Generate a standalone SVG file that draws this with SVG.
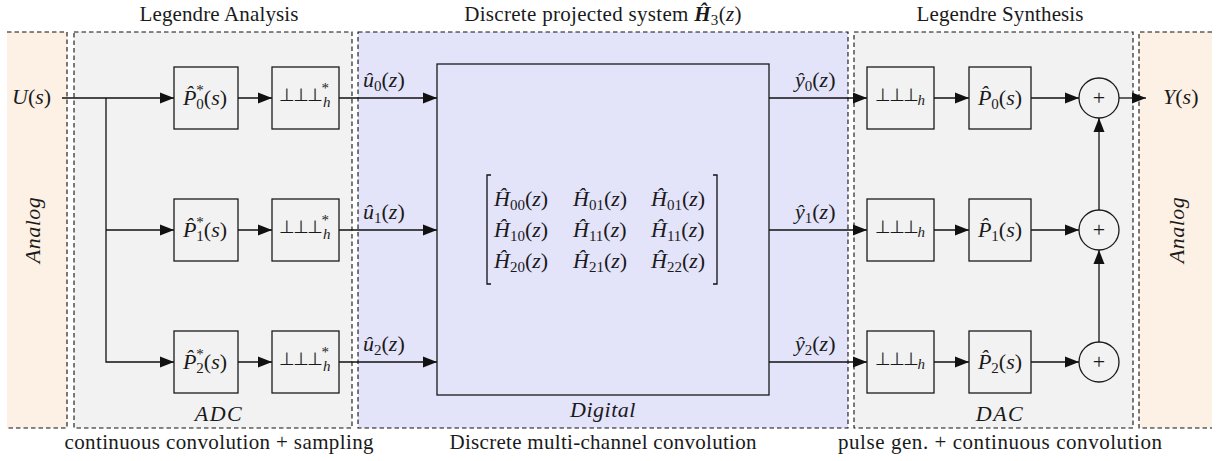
<svg xmlns="http://www.w3.org/2000/svg" width="1221" height="461" viewBox="0 0 1221 461">
<style>
.t{font-family:"Liberation Serif","DejaVu Serif",serif;font-size:21px;fill:#1a1a1a}
.m{font-size:22px}
.i{font-style:italic}
.s{font-size:15px}
.c{font-family:"DejaVu Sans",sans-serif;font-size:18px;fill:#1a1a1a}
.box{fill:none;stroke:#1a1a1a;stroke-width:1.3}
.reg{stroke:#111;stroke-width:1.1;stroke-dasharray:4.5 3}
.ln{fill:none;stroke:#111;stroke-width:1.3}
</style>
<defs>
<marker id="ah" markerUnits="userSpaceOnUse" markerWidth="15" markerHeight="12" refX="14" refY="6" orient="auto">
<path d="M0,0.5 L14,6 L0,11.5 z" fill="#111"/>
</marker>
</defs>
<rect width="1221" height="461" fill="#fff"/>
<g id="regions">
<rect x="7" y="32" width="60" height="396" fill="#FDF0E4"/>
<path class="reg" d="M7,32 H67 V428 H7" fill="none"/>
<rect class="reg" x="74" y="32" width="278" height="396" fill="#F2F2F2"/>
<rect class="reg" x="358" y="32" width="490" height="396" fill="#E3E3FA"/>
<rect class="reg" x="854" y="32" width="279" height="396" fill="#F2F2F2"/>
<rect x="1139" y="32" width="73" height="396" fill="#FDF0E4"/>
<path class="reg" d="M1212,32 H1139 V428 H1212" fill="none"/>
</g>
<g id="labels">
<text class="t" x="219" y="21" text-anchor="middle" textLength="159" lengthAdjust="spacing">Legendre Analysis</text>
<text class="t" x="603" y="21" text-anchor="middle" font-size="22" letter-spacing="0.3">Discrete projected system <tspan class="i" font-weight="bold">Ĥ</tspan><tspan class="s" dy="4">3</tspan><tspan dy="-4">(</tspan><tspan class="i">z</tspan>)</text>
<text class="t" x="1000" y="21" text-anchor="middle" textLength="167" lengthAdjust="spacing">Legendre Synthesis</text>
<text class="t" x="219" y="449" text-anchor="middle" textLength="309" lengthAdjust="spacing">continuous convolution + sampling</text>
<text class="t" x="603" y="449" text-anchor="middle" textLength="307" lengthAdjust="spacing">Discrete multi-channel convolution</text>
<text class="t" x="1000" y="449" text-anchor="middle" textLength="324" lengthAdjust="spacing">pulse gen. + continuous convolution</text>
<text class="t m i" x="219" y="421" text-anchor="middle" letter-spacing="1.5">ADC</text>
<text class="t m i" x="603" y="417" text-anchor="middle" letter-spacing="0.5">Digital</text>
<text class="t m i" x="1000" y="421" text-anchor="middle" letter-spacing="1.5">DAC</text>
<text class="t m i" transform="translate(40,230) rotate(-90)" text-anchor="middle" fill="#333" letter-spacing="0.5">Analog</text>
<text class="t m i" transform="translate(1184,230) rotate(-90)" text-anchor="middle" fill="#333" letter-spacing="0.5">Analog</text>
<text class="t m" x="12" y="104"><tspan class="i">U</tspan>(<tspan class="i">s</tspan>)</text>
<text class="t m" x="1163" y="104"><tspan class="i">Y</tspan>(<tspan class="i">s</tspan>)</text>
<text class="t m" x="363" y="87"><tspan class="i">û</tspan><tspan class="s" dy="4">0</tspan><tspan dy="-4">(</tspan><tspan class="i">z</tspan>)</text>
<text class="t m" x="363" y="219"><tspan class="i">û</tspan><tspan class="s" dy="4">1</tspan><tspan dy="-4">(</tspan><tspan class="i">z</tspan>)</text>
<text class="t m" x="363" y="351"><tspan class="i">û</tspan><tspan class="s" dy="4">2</tspan><tspan dy="-4">(</tspan><tspan class="i">z</tspan>)</text>
<text class="t m" x="795" y="87"><tspan class="i">ŷ</tspan><tspan class="s" dy="4">0</tspan><tspan dy="-4">(</tspan><tspan class="i">z</tspan>)</text>
<text class="t m" x="795" y="219"><tspan class="i">ŷ</tspan><tspan class="s" dy="4">1</tspan><tspan dy="-4">(</tspan><tspan class="i">z</tspan>)</text>
<text class="t m" x="795" y="351"><tspan class="i">ŷ</tspan><tspan class="s" dy="4">2</tspan><tspan dy="-4">(</tspan><tspan class="i">z</tspan>)</text>
</g>
<g id="connectors">
<path class="ln" d="M62,98 H174" marker-end="url(#ah)"/>
<path class="ln" d="M106,98 V362 H174" marker-end="url(#ah)"/>
<path class="ln" d="M106,230 H174" marker-end="url(#ah)"/>
<path class="ln" d="M238,98 H272" marker-end="url(#ah)"/>
<path class="ln" d="M238,230 H272" marker-end="url(#ah)"/>
<path class="ln" d="M238,362 H272" marker-end="url(#ah)"/>
<path class="ln" d="M339,98 H437" marker-end="url(#ah)"/>
<path class="ln" d="M339,230 H437" marker-end="url(#ah)"/>
<path class="ln" d="M339,362 H437" marker-end="url(#ah)"/>
<path class="ln" d="M769,98 H867" marker-end="url(#ah)"/>
<path class="ln" d="M769,230 H867" marker-end="url(#ah)"/>
<path class="ln" d="M769,362 H867" marker-end="url(#ah)"/>
<path class="ln" d="M934,98 H969" marker-end="url(#ah)"/>
<path class="ln" d="M934,230 H969" marker-end="url(#ah)"/>
<path class="ln" d="M934,362 H969" marker-end="url(#ah)"/>
<path class="ln" d="M1031,98 H1079" marker-end="url(#ah)"/>
<path class="ln" d="M1031,230 H1079" marker-end="url(#ah)"/>
<path class="ln" d="M1031,362 H1079" marker-end="url(#ah)"/>
<path class="ln" d="M1099,342 V250" marker-end="url(#ah)"/>
<path class="ln" d="M1099,210 V118" marker-end="url(#ah)"/>
<path class="ln" d="M1119,98 H1146" marker-end="url(#ah)"/>
</g>
<g id="pa0"><rect class="box" x="174" y="67" width="64" height="62"/>
<text class="t m" x="205" y="105" text-anchor="middle"><tspan class="i">P̂</tspan><tspan class="s" dy="-10">*</tspan><tspan class="s" dx="-7.5" dy="14">0</tspan><tspan dy="-4">(</tspan><tspan class="i">s</tspan>)</text></g>
<g id="pa1"><rect class="box" x="174" y="199" width="64" height="62"/>
<text class="t m" x="205" y="237" text-anchor="middle"><tspan class="i">P̂</tspan><tspan class="s" dy="-10">*</tspan><tspan class="s" dx="-7.5" dy="14">1</tspan><tspan dy="-4">(</tspan><tspan class="i">s</tspan>)</text></g>
<g id="pa2"><rect class="box" x="174" y="331" width="64" height="62"/>
<text class="t m" x="205" y="369" text-anchor="middle"><tspan class="i">P̂</tspan><tspan class="s" dy="-10">*</tspan><tspan class="s" dx="-7.5" dy="14">2</tspan><tspan dy="-4">(</tspan><tspan class="i">s</tspan>)</text></g>
<g id="sa0"><rect class="box" x="272" y="67" width="67" height="62"/>
<text class="t" x="279" y="101"><tspan class="c" letter-spacing="-1.5">⊥⊥⊥</tspan><tspan class="s" dy="-8">*</tspan><tspan class="s i" dx="-6" dy="14">h</tspan></text></g>
<g id="sa1"><rect class="box" x="272" y="199" width="67" height="62"/>
<text class="t" x="279" y="233"><tspan class="c" letter-spacing="-1.5">⊥⊥⊥</tspan><tspan class="s" dy="-8">*</tspan><tspan class="s i" dx="-6" dy="14">h</tspan></text></g>
<g id="sa2"><rect class="box" x="272" y="331" width="67" height="62"/>
<text class="t" x="279" y="365"><tspan class="c" letter-spacing="-1.5">⊥⊥⊥</tspan><tspan class="s" dy="-8">*</tspan><tspan class="s i" dx="-6" dy="14">h</tspan></text></g>
<g id="matrix"><rect class="box" x="437" y="64" width="332" height="331"/>
<path class="ln" d="M491,175 H487 V284 H491 M713,175 H717 V284 H713"/>
<text class="t m" x="494" y="206"><tspan class="i">Ĥ</tspan><tspan class="s" dy="4">00</tspan><tspan dy="-4">(</tspan><tspan class="i">z</tspan>)</text>
<text class="t m" x="573" y="206"><tspan class="i">Ĥ</tspan><tspan class="s" dy="4">01</tspan><tspan dy="-4">(</tspan><tspan class="i">z</tspan>)</text>
<text class="t m" x="651" y="206"><tspan class="i">Ĥ</tspan><tspan class="s" dy="4">01</tspan><tspan dy="-4">(</tspan><tspan class="i">z</tspan>)</text>
<text class="t m" x="494" y="237"><tspan class="i">Ĥ</tspan><tspan class="s" dy="4">10</tspan><tspan dy="-4">(</tspan><tspan class="i">z</tspan>)</text>
<text class="t m" x="573" y="237"><tspan class="i">Ĥ</tspan><tspan class="s" dy="4">11</tspan><tspan dy="-4">(</tspan><tspan class="i">z</tspan>)</text>
<text class="t m" x="651" y="237"><tspan class="i">Ĥ</tspan><tspan class="s" dy="4">11</tspan><tspan dy="-4">(</tspan><tspan class="i">z</tspan>)</text>
<text class="t m" x="494" y="268"><tspan class="i">Ĥ</tspan><tspan class="s" dy="4">20</tspan><tspan dy="-4">(</tspan><tspan class="i">z</tspan>)</text>
<text class="t m" x="573" y="268"><tspan class="i">Ĥ</tspan><tspan class="s" dy="4">21</tspan><tspan dy="-4">(</tspan><tspan class="i">z</tspan>)</text>
<text class="t m" x="651" y="268"><tspan class="i">Ĥ</tspan><tspan class="s" dy="4">22</tspan><tspan dy="-4">(</tspan><tspan class="i">z</tspan>)</text>
</g>
<g id="sd0"><rect class="box" x="867" y="67" width="67" height="62"/>
<text class="t" x="875" y="101"><tspan class="c" letter-spacing="-1.5">⊥⊥⊥</tspan><tspan class="s i" dy="4">h</tspan></text></g>
<g id="sd1"><rect class="box" x="867" y="199" width="67" height="62"/>
<text class="t" x="875" y="233"><tspan class="c" letter-spacing="-1.5">⊥⊥⊥</tspan><tspan class="s i" dy="4">h</tspan></text></g>
<g id="sd2"><rect class="box" x="867" y="331" width="67" height="62"/>
<text class="t" x="875" y="365"><tspan class="c" letter-spacing="-1.5">⊥⊥⊥</tspan><tspan class="s i" dy="4">h</tspan></text></g>
<g id="ps0"><rect class="box" x="969" y="67" width="62" height="62"/>
<text class="t m" x="1000" y="105" text-anchor="middle"><tspan class="i">P̂</tspan><tspan class="s" dy="4">0</tspan><tspan dy="-4">(</tspan><tspan class="i">s</tspan>)</text></g>
<g id="ps1"><rect class="box" x="969" y="199" width="62" height="62"/>
<text class="t m" x="1000" y="237" text-anchor="middle"><tspan class="i">P̂</tspan><tspan class="s" dy="4">1</tspan><tspan dy="-4">(</tspan><tspan class="i">s</tspan>)</text></g>
<g id="ps2"><rect class="box" x="969" y="331" width="62" height="62"/>
<text class="t m" x="1000" y="369" text-anchor="middle"><tspan class="i">P̂</tspan><tspan class="s" dy="4">2</tspan><tspan dy="-4">(</tspan><tspan class="i">s</tspan>)</text></g>
<g id="sum0"><circle class="box" cx="1099" cy="98" r="20"/><text class="t m" x="1099" y="105" text-anchor="middle" fill="#333">+</text></g>
<g id="sum1"><circle class="box" cx="1099" cy="230" r="20"/><text class="t m" x="1099" y="237" text-anchor="middle" fill="#333">+</text></g>
<g id="sum2"><circle class="box" cx="1099" cy="362" r="20"/><text class="t m" x="1099" y="369" text-anchor="middle" fill="#333">+</text></g>
</svg>
